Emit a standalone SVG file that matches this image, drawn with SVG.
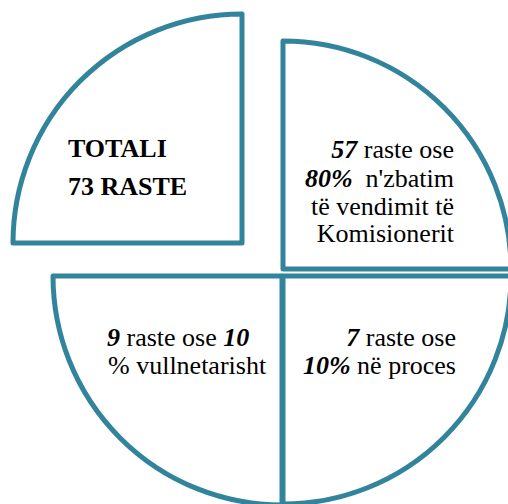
<svg xmlns="http://www.w3.org/2000/svg" width="508" height="504" viewBox="0 0 508 504">
<style>
.q{fill:#ffffff;stroke:#31849b;stroke-width:5;stroke-linejoin:round}
.t{font-family:'Liberation Serif','Times New Roman','DejaVu Serif',serif;font-size:26px;fill:#000000}
.b{font-weight:bold}
.bi{font-weight:bold;font-style:italic}
.r{text-anchor:end}
</style>
<rect width="508" height="504" fill="#ffffff"/>
<g id="connectors"></g>
<g id="node-totali" class="t" font-family="Liberation Serif, serif">
<path class="q" d="M242,243 H13 A229,229 0 0 1 242,14 Z"/>
<text class="b" x="68" y="157">TOTALI</text>
<text class="b" x="68" y="195">73 RASTE</text>
</g>
<g id="node-zbatim" class="t" font-family="Liberation Serif, serif">
<path class="q" d="M283,269 V41 A228,228 0 0 1 511,269 Z"/>
<text class="r" x="454" y="158"><tspan class="bi">57</tspan> raste ose</text>
<text class="r" x="454" y="187" xml:space="preserve"><tspan class="bi">80%</tspan>  n'zbatim</text>
<text class="r" x="454" y="215">të vendimit të</text>
<text class="r" x="454" y="242">Komisionerit</text>
</g>
<g id="node-vullnetarisht" class="t" font-family="Liberation Serif, serif">
<path class="q" d="M282,276 V505 A229,229 0 0 1 53,276 Z"/>
<text x="107" y="346"><tspan class="bi">9</tspan> raste ose <tspan class="bi">10</tspan></text>
<text x="108" y="374">% vullnetarisht</text>
</g>
<g id="node-proces" class="t" font-family="Liberation Serif, serif">
<path class="q" d="M283,276 H511 A228,228 0 0 1 283,504 Z"/>
<text class="r" x="456" y="346"><tspan class="bi">7</tspan> raste ose</text>
<text class="r" x="456" y="374"><tspan class="bi">10%</tspan> në proces</text>
</g>
</svg>
